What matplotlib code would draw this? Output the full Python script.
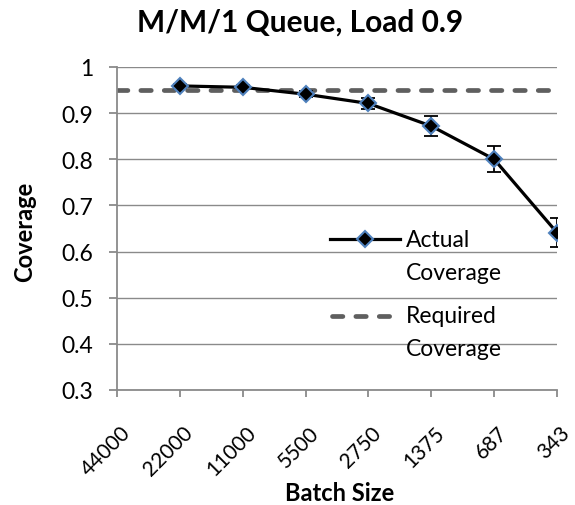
import matplotlib
matplotlib.use("Agg")
import matplotlib.pyplot as plt
from matplotlib.lines import Line2D
from matplotlib.transforms import ScaledTranslation

categories = ["44000", "22000", "11000", "5500", "2750", "1375", "687", "343"]
actual_cats = ["22000", "11000", "5500", "2750", "1375", "687", "343"]
actual = [0.959, 0.956, 0.941, 0.921, 0.872, 0.800, 0.641]
errors = [0.004, 0.004, 0.006, 0.012, 0.021, 0.028, 0.032]
required = 0.95
yticks = [0.3, 0.4, 0.5, 0.6, 0.7, 0.8, 0.9, 1.0]
ytick_labels = ["0.3", "0.4", "0.5", "0.6", "0.7", "0.8", "0.9", "1"]

plt.rcParams['font.family'] = ['Lato', 'DejaVu Sans']

W, H = 575, 506
fig = plt.figure(figsize=(W / 100, H / 100), dpi=100)
ax = fig.add_axes([117 / W, 1 - 391 / H, 440 / W, 323 / H])

xpos = {c: i for i, c in enumerate(categories)}
ax_x = [xpos[c] for c in actual_cats]

grid_c = "#8a8a8a"
for y in yticks:
    ax.axhline(y, color=grid_c, lw=1.0, zorder=0)

dash_color = "#5f5f5f"
dash_lw = 3.4
dash_pat = (2.2, 2.75)
ax.plot([0, len(categories) - 1], [required, required], color=dash_color, lw=dash_lw,
        dashes=dash_pat, dash_capstyle='round', zorder=2)
ax.errorbar(ax_x, actual, yerr=errors, fmt='none', ecolor='black', elinewidth=1.3,
            capsize=4.7, capthick=1.3, zorder=3)
mk = dict(marker='D', markersize=8, markerfacecolor='black', markeredgecolor='#4F81BD',
          markeredgewidth=1.5)
ax.plot(ax_x, actual, color='black', lw=2.3, zorder=4, **mk)

ax.set_xlim(0, len(categories) - 1)
ax.set_ylim(0.3, 1.0)
ax.set_yticks(yticks)
ax.set_yticklabels(ytick_labels)
ax.set_xticks(range(len(categories)))
ax.set_xticklabels(categories, rotation=45, ha='right', va='top', rotation_mode='anchor')

for s in ['top', 'right']:
    ax.spines[s].set_visible(False)
for s in ['left', 'bottom']:
    ax.spines[s].set_color(grid_c)
    ax.spines[s].set_linewidth(1.3)
ax.tick_params(axis='both', colors=grid_c, labelcolor='black', labelsize=16.5, width=1.3)
ax.tick_params(axis='y', length=6, pad=11)
ax.tick_params(axis='x', length=5, pad=8, labelsize=15)
off = ScaledTranslation(3 / 100, -14 / 100, fig.dpi_scale_trans)
for lab in ax.get_xticklabels():
    lab.set_transform(lab.get_transform() + off)

fig.text(300 / W, 1 - 23 / H, "M/M/1 Queue, Load 0.9", fontsize=21.5,
         fontweight='bold', ha='center', va='center')
fig.text(25 / W, 1 - 232 / H, "Coverage", fontsize=17, fontweight='bold', rotation=90,
         ha='center', va='center')
fig.text(340 / W, 1 - 494 / H, "Batch Size", fontsize=17, fontweight='bold',
         ha='center', va='center')

# legend (drawn in axes coordinates)
def ax_xy(px, py):
    return (px - 117) / 440, (391 - py) / 323

x0, y0 = ax_xy(330, 240)
x1, _ = ax_xy(400, 240)
xm, _ = ax_xy(365, 240)
ax.add_line(Line2D([x0, x1], [y0, y0], color='black', lw=2.3, transform=ax.transAxes,
                   clip_on=False, zorder=5))
ax.add_line(Line2D([xm], [y0], color='black', transform=ax.transAxes, clip_on=False,
                   zorder=6, linestyle='none', **mk))
x0d, yd = ax_xy(332, 317)
x1d, _ = ax_xy(391, 317)
ax.add_line(Line2D([x0d, x1d], [yd, yd], color=dash_color, lw=dash_lw, dashes=dash_pat,
                   dash_capstyle='round', transform=ax.transAxes, clip_on=False, zorder=5))
tx, _ = ax_xy(406, 0)
for label, py in [("Actual", 247), ("Coverage", 280), ("Required", 323), ("Coverage", 356)]:
    ax.text(tx, ax_xy(0, py)[1], label, transform=ax.transAxes, fontsize=16.5,
            ha='left', va='baseline', zorder=6)

fig.savefig("out.png", dpi=100)
